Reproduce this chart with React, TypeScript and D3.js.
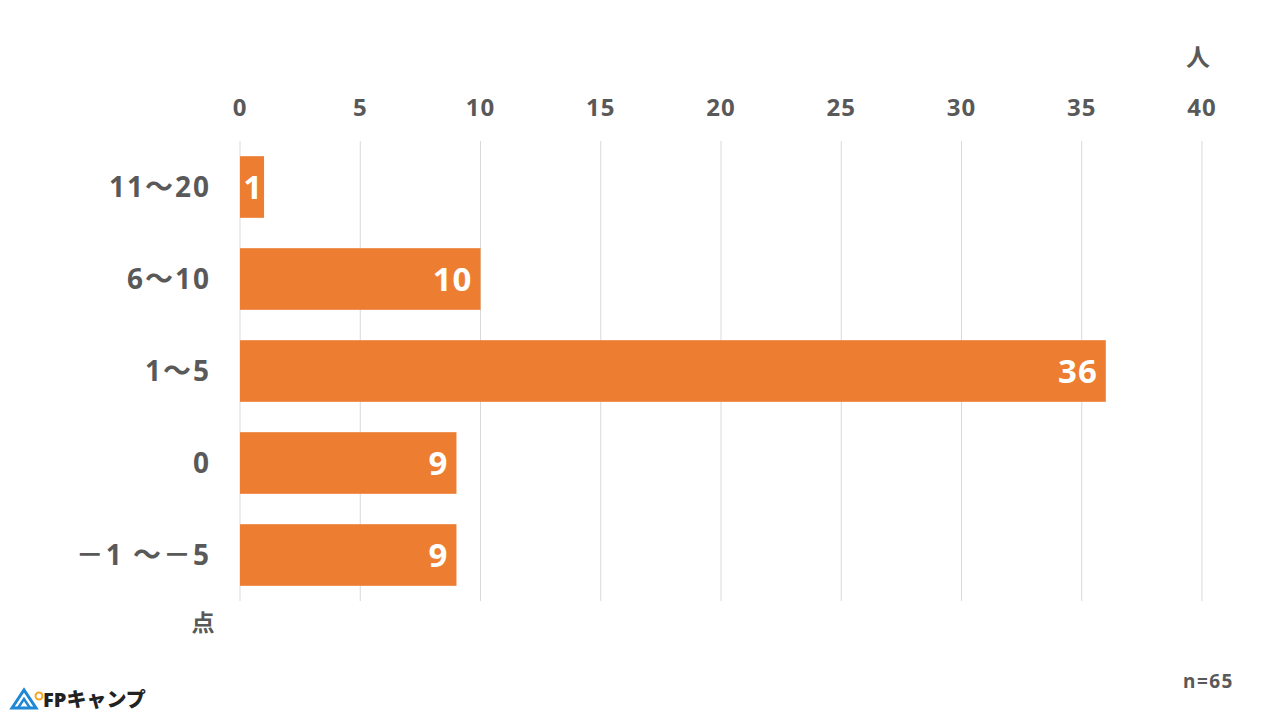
import React, { useRef, useEffect } from 'react';
import * as d3 from 'd3';

const categories = ['11～20', '6～10', '1～5', '0', '－1 ～－5'];
const values = [1, 10, 36, 9, 9];
const xTicks = [0, 5, 10, 15, 20, 25, 30, 35, 40];
const sampleSize = 'n=65';

const FONT = '"Noto Sans", "Noto Sans CJK JP", sans-serif';
const GREY = '#595959';
const ORANGE = '#ED7D31';

const createChart = (svg: d3.Selection<SVGSVGElement, unknown, null, undefined>): void => {
    const left = 240;
    const right = 1202;
    const top = 141;
    const bottom = 601;

    svg.selectAll('*').remove();

    const x = d3.scaleLinear().domain([0, 40]).range([left, right]);
    const y = d3.scaleBand().domain(categories).range([top, bottom]).paddingInner(0.33).paddingOuter(0.165);

    // grid lines
    svg.append('g')
        .selectAll('line')
        .data(xTicks)
        .enter().append('line')
        .attr('x1', d => x(d))
        .attr('x2', d => x(d))
        .attr('y1', top)
        .attr('y2', bottom)
        .attr('stroke', '#d9d9d9')
        .attr('stroke-width', 1);

    // top axis labels
    svg.append('g')
        .selectAll('text')
        .data(xTicks)
        .enter().append('text')
        .attr('x', d => x(d))
        .attr('y', 116)
        .attr('text-anchor', 'middle')
        .attr('font-family', FONT)
        .attr('font-weight', 'bold')
        .attr('font-size', 24)
        .attr('letter-spacing', 1)
        .attr('fill', GREY)
        .text(d => d);

    // bars
    svg.append('g')
        .selectAll('rect')
        .data(values)
        .enter().append('rect')
        .attr('x', x(0))
        .attr('y', (_, i) => y(categories[i])!)
        .attr('width', d => x(d) - x(0))
        .attr('height', y.bandwidth())
        .attr('fill', ORANGE);

    // value labels
    svg.append('g')
        .selectAll('text')
        .data(values)
        .enter().append('text')
        .attr('x', d => x(d) - (d < 5 ? 1 : 8))
        .attr('y', (_, i) => y(categories[i])! + y.bandwidth() / 2 + 12)
        .attr('text-anchor', 'end')
        .attr('font-family', FONT)
        .attr('font-weight', 'bold')
        .attr('font-size', 33)
        .attr('letter-spacing', 1)
        .attr('fill', '#ffffff')
        .text(d => d);

    // category labels
    svg.append('g')
        .selectAll('text')
        .data(categories)
        .enter().append('text')
        .attr('x', 211)
        .attr('y', d => y(d)! + y.bandwidth() / 2 + 10)
        .attr('text-anchor', 'end')
        .attr('font-family', FONT)
        .attr('font-weight', 'bold')
        .attr('font-size', 28)
        .attr('letter-spacing', 2)
        .attr('fill', GREY)
        .text(d => d);

    // unit labels
    svg.append('text')
        .attr('x', 1198).attr('y', 66)
        .attr('text-anchor', 'middle')
        .attr('font-family', FONT).attr('font-weight', 'bold')
        .attr('font-size', 24).attr('fill', GREY)
        .text('人');
    svg.append('text')
        .attr('x', 203).attr('y', 631)
        .attr('text-anchor', 'middle')
        .attr('font-family', FONT).attr('font-weight', 'bold')
        .attr('font-size', 23).attr('fill', GREY)
        .text('点');
    svg.append('text')
        .attr('x', 1234).attr('y', 688)
        .attr('text-anchor', 'end')
        .attr('font-family', FONT).attr('font-weight', 'bold')
        .attr('font-size', 19).attr('letter-spacing', 1.5).attr('fill', GREY)
        .text(sampleSize);

    // logo
    const logo = svg.append('g').attr('transform', 'translate(12,688)');
    logo.append('path')
        .attr('d', 'M0,20 L12,2 L24,20 Z')
        .attr('fill', 'none')
        .attr('stroke', '#1e88d6')
        .attr('stroke-width', 3);
    logo.append('path')
        .attr('d', 'M6,20 L12,11 L18,20')
        .attr('fill', 'none')
        .attr('stroke', '#1e88d6')
        .attr('stroke-width', 2.5);
    logo.append('circle')
        .attr('cx', 27).attr('cy', 8).attr('r', 3.5)
        .attr('fill', 'none').attr('stroke', '#f5a623').attr('stroke-width', 2);
    logo.append('text')
        .attr('x', 31).attr('y', 19)
        .attr('font-family', FONT).attr('font-weight', 900)
        .attr('font-size', 20).attr('fill', '#222')
        .text('FPキャンプ');
};

const App: React.FC = () => {
    const ref = useRef<SVGSVGElement>(null);

    useEffect(() => {
        if (ref.current) {
            createChart(d3.select(ref.current));
        }
    }, []);

    return (
        <div style={{ position: 'fixed', left: 0, top: 0, width: 1280, height: 720, background: '#fff' }}>
            <svg ref={ref} width={1280} height={720} style={{ display: 'block' }} />
        </div>
    );
};

export default App;
